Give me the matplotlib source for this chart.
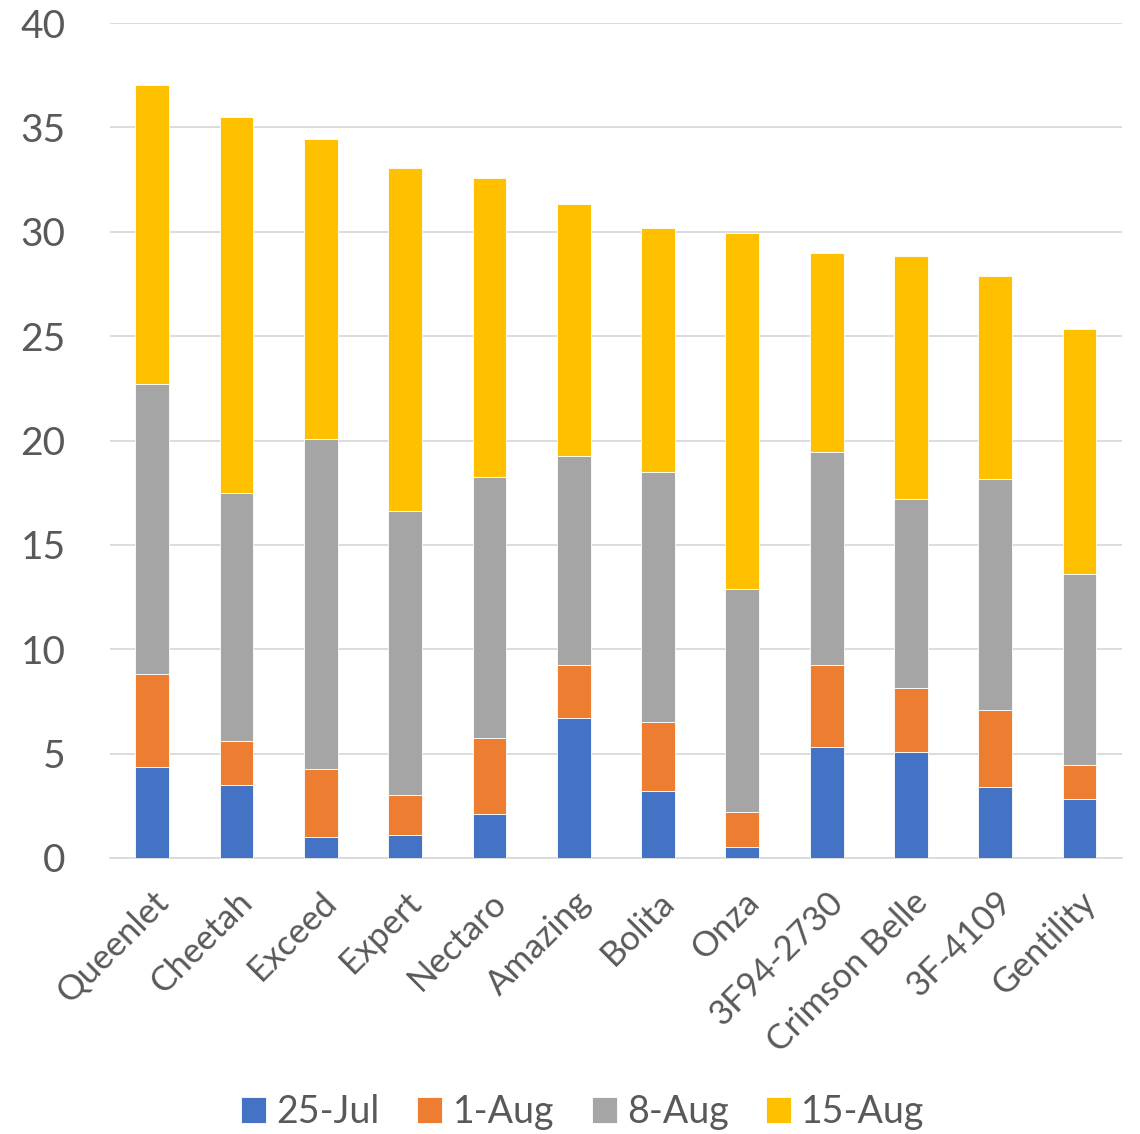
import matplotlib.pyplot as plt
import numpy as np

varieties = ["Queenlet", "Cheetah", "Exceed", "Expert", "Nectaro", "Amazing",
             "Bolita", "Onza", "3F94-2730", "Crimson Belle", "3F-4109", "Gentility"]
dates = ["25-Jul", "1-Aug", "8-Aug", "15-Aug"]

jul25 = [4.36, 3.50, 1.00, 1.10, 2.10, 6.70, 3.20, 0.53, 5.30, 5.10, 3.40, 2.83]
aug1 = [4.45, 2.10, 3.26, 1.92, 3.65, 2.55, 3.30, 1.67, 3.95, 3.04, 3.69, 1.63]
aug8 = [13.89, 11.89, 15.81, 13.60, 12.50, 10.01, 11.99, 10.69, 10.20, 9.06, 11.07, 9.14]
aug15 = [14.33, 18.01, 14.37, 16.43, 14.32, 12.07, 11.69, 17.05, 9.53, 11.64, 9.72, 11.74]

colors = ["#4472C4", "#ED7D31", "#A5A5A5", "#FFC000"]
text_color = "#595959"

plt.rcParams['font.family'] = ['Lato', 'DejaVu Sans']

fig = plt.figure(figsize=(11.4, 11.34), dpi=100)
ax = fig.add_axes([0.0965, 0.2434, 0.8875, 0.7363])

x = np.arange(len(varieties))
bottom = np.zeros(len(varieties))
for series, color, label in zip([jul25, aug1, aug8, aug15], colors, dates):
    ax.bar(x, series, 0.4, bottom=bottom, color=color, label=label,
           edgecolor="white", linewidth=0.6, zorder=3)
    bottom += np.array(series)

ax.set_xlim(-0.5, len(varieties) - 0.5)
ax.set_ylim(0, 40)
ax.set_yticks(range(0, 41, 5))
ax.grid(axis="y", color="#D9D9D9", linewidth=1.3, zorder=0)
for side in ["top", "right", "left"]:
    ax.spines[side].set_visible(False)
ax.spines["bottom"].set_color("#D9D9D9")
ax.spines["bottom"].set_linewidth(1.3)
ax.tick_params(axis="both", length=0, colors=text_color)
ax.tick_params(axis="y", labelsize=28, pad=32)
ax.set_xticks(x)
ax.set_xticklabels(varieties, rotation=45, ha="right", rotation_mode="anchor",
                   fontsize=25, color=text_color)
ax.tick_params(axis="x", pad=20)

fig.legend(loc="center", bbox_to_anchor=(583 / 1140, 1 - 1112 / 1134), ncol=4,
           frameon=False, fontsize=27, labelcolor=text_color, handlelength=0.67,
           handleheight=0.67, handletextpad=0.27, columnspacing=1.0)

fig.savefig("out.png", dpi=100)
